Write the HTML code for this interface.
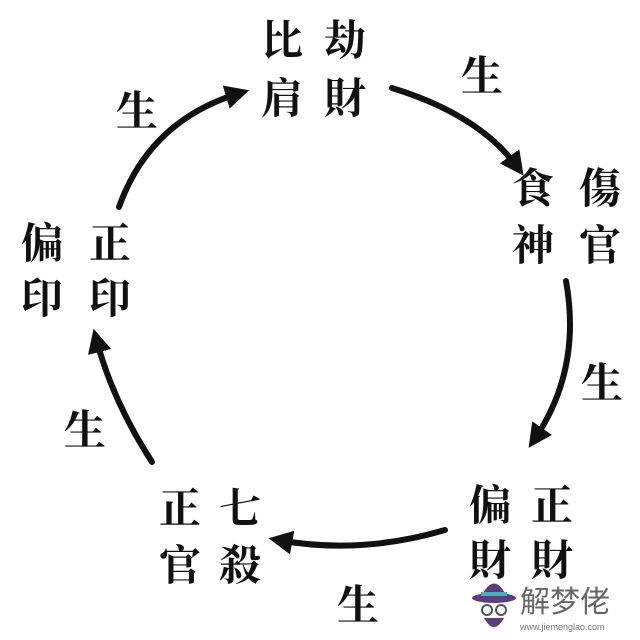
<!DOCTYPE html>
<html><head><meta charset="utf-8"><style>
html,body{margin:0;padding:0;background:#fff}
svg{display:block}
text{font-family:"Liberation Serif","Noto Serif CJK SC","Noto Serif CJK TC",serif;font-weight:bold;fill:#111}
</style></head><body>
<svg width="640" height="640" viewBox="0 0 640 640" xmlns="http://www.w3.org/2000/svg">
<defs><marker id="a" viewBox="0 0 10 10" refX="6" refY="5" markerWidth="4" markerHeight="4" orient="auto"><path d="M0,0 L10,5 L0,10 z" fill="#111"/></marker></defs>
<g fill="none" stroke="#111" stroke-width="6" stroke-linecap="round" marker-end="url(#a)">
<path d="M119,207 Q150,120 240,93"/>
<path d="M392,88 Q480,115 518,168"/>
<path d="M566,281 Q582,370 534,440"/>
<path d="M445,530 Q360,555 278,540"/>
<path d="M152,462 Q112,400 96,338"/>
</g>
<g font-size="42" text-anchor="middle" dominant-baseline="central">
<text x="282" y="42">比</text><text x="345" y="42">劫</text>
<text x="282" y="100">肩</text><text x="345" y="100">財</text>
<text x="533" y="190">食</text><text x="600" y="190">傷</text>
<text x="533" y="247">神</text><text x="600" y="247">官</text>
<text x="42" y="245">偏</text><text x="110" y="245">正</text>
<text x="42" y="300">印</text><text x="110" y="300">印</text>
<text x="180" y="510">正</text><text x="240" y="510">七</text>
<text x="180" y="567">官</text><text x="240" y="567">殺</text>
<text x="490" y="507">偏</text><text x="552" y="507">正</text>
<text x="490" y="562">財</text><text x="552" y="562">財</text>
<text x="137" y="113">生</text><text x="482" y="78">生</text>
<text x="602" y="385">生</text><text x="85" y="432">生</text>
<text x="358" y="607">生</text>
</g>
<g>
<ellipse cx="494" cy="598" rx="22" ry="5" fill="#5a3f7a"/>
<path d="M481,597 Q494,570 507,597 z" fill="#5a3f7a"/>
<rect x="481" y="592" width="26" height="4" fill="#4ab0c0"/>
<circle cx="487" cy="610" r="5" fill="none" stroke="#555" stroke-width="2"/>
<circle cx="501" cy="610" r="5" fill="none" stroke="#555" stroke-width="2"/>
<path d="M484,618 Q494,636 504,618 z" fill="#5a3f7a"/>
<text x="520" y="612" font-size="30" style="font-family:'Noto Sans CJK SC',sans-serif;font-weight:normal;fill:#666">解梦佬</text>
<text x="520" y="630" font-size="9" style="font-family:'Liberation Sans',sans-serif;font-weight:normal;fill:#777">www.jiemenglao.com</text>
</g>
</svg>
</body></html>
